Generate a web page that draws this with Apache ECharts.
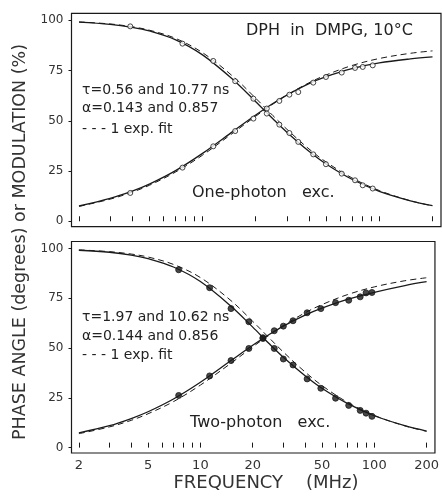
<!DOCTYPE html>
<html>
<head>
<meta charset="utf-8">
<script src="https://cdn.jsdelivr.net/npm/echarts@6/dist/echarts.min.js"></script>
<style>
  html, body { margin: 0; padding: 0; background: #fff; }
  #chart { width: 442px; height: 499px; }
</style>
</head>
<body>
<div id="chart"></div>
<script>
const curveFreq = [2, 3, 4, 5, 7, 10, 15, 20, 25, 30, 40, 50, 70, 100, 150, 200]

// one-photon excitation (top panel)
const onePhaseFit = [7.6, 11.4, 15.0, 18.5, 25.1, 33.8, 45.0, 52.9, 58.6, 62.8, 68.5, 72.0, 76.0, 78.8, 80.8, 81.8]
const oneModFit = [99.1, 98.0, 96.5, 94.7, 90.4, 82.8, 70.2, 59.5, 51.0, 44.3, 34.8, 28.5, 20.9, 14.9, 10.2, 7.8]
const onePhaseExp1 = [7.4, 11.0, 14.5, 17.9, 24.4, 32.9, 44.2, 52.3, 58.3, 62.8, 68.9, 72.8, 77.5, 81.0, 83.6, 84.8]
const oneModExp1 = [99.2, 98.2, 96.8, 95.1, 91.1, 83.9, 71.8, 61.2, 52.6, 45.8, 36.0, 29.5, 21.6, 15.3, 10.2, 7.7]
const oneFreq = [3.9, 7.7, 11.5, 15.3, 19.4, 23.1, 27.2, 31.0, 34.8, 42.3, 49.9, 61.3, 72.9, 80.6, 91.8]
const onePhase = [14.1, 26.7, 37.3, 44.9, 51.1, 56.1, 59.9, 63.0, 64.3, 69.0, 71.8, 74.0, 76.3, 76.8, 77.6]
const oneMod = [97.0, 88.4, 79.8, 69.7, 61.0, 53.6, 48.1, 43.9, 39.5, 33.3, 28.4, 23.7, 20.4, 17.9, 16.3]

// two-photon excitation (bottom panel)
const twoPhaseFit = [7.4, 11.0, 14.6, 18.0, 24.4, 32.8, 43.7, 51.4, 56.9, 61.0, 66.5, 70.0, 74.4, 78.0, 81.4, 83.3]
const twoModFit = [99.1, 98.1, 96.7, 94.9, 90.7, 83.4, 71.0, 60.5, 52.0, 45.4, 36.1, 29.8, 22.2, 16.0, 11.0, 8.3]
const twoPhaseExp1 = [7.0, 10.4, 13.7, 17.0, 23.1, 31.4, 42.4, 50.6, 56.7, 61.3, 67.7, 71.8, 76.8, 80.7, 83.8, 85.3]
const twoModExp1 = [99.3, 98.4, 97.2, 95.7, 92.0, 85.4, 73.8, 63.4, 54.9, 48.0, 38.0, 31.2, 22.8, 16.2, 10.9, 8.2]
const twoFreq = [7.5, 11.3, 15.0, 19.0, 22.9, 26.6, 30.0, 34.1, 41.1, 49.3, 59.9, 71.3, 83.0, 89.7, 97.0]
const twoPhase = [26.2, 36.0, 43.7, 49.8, 55.2, 58.7, 61.0, 63.7, 67.7, 69.8, 72.8, 74.0, 75.7, 77.7, 77.9]
const twoMod = [89.3, 80.3, 69.8, 63.2, 54.8, 49.8, 44.5, 41.5, 34.5, 29.8, 24.8, 21.2, 18.7, 17.3, 15.7]

// axis ticks
const xLabels = [2, 5, 10, 20, 50, 100, 200]
const xTicks = [2, 3, 4, 5, 6, 7, 8, 9, 10, 20, 30, 40, 50, 60, 70, 80, 90, 100, 200]
const yLabels = [0, 25, 50, 75, 100]

const ink = '#1a1a1a'
const font = '"DejaVu Sans", sans-serif'

function pairs(xs, ys) {
  return xs.map((x, i) => [x, ys[i]])
}

function xAxis(gi, showLabel) {
  return {
    type: 'log',
    logBase: 10,
    gridIndex: gi,
    min: 1.814,
    max: 223.4,
    axisLine: { show: false },
    axisTick: { show: true, inside: true, length: 5, customValues: xTicks, lineStyle: { color: ink, width: 1 } },
    minorTick: { show: false },
    axisLabel: { show: showLabel, customValues: xLabels, margin: 6, fontSize: 13, color: '#333', fontFamily: font },
    splitLine: { show: false }
  }
}

function yAxis(gi) {
  return {
    type: 'value',
    gridIndex: gi,
    min: -2.7,
    max: 103.5,
    axisLine: { show: false },
    axisTick: { show: true, inside: false, length: 3, customValues: yLabels, lineStyle: { color: ink } },
    axisLabel: { customValues: yLabels, margin: 8, fontSize: 12, color: '#333', fontFamily: font },
    splitLine: { show: false }
  }
}

function curve(gi, ys, dashed) {
  return {
    type: 'line',
    xAxisIndex: gi,
    yAxisIndex: gi,
    data: pairs(curveFreq, ys),
    smooth: 0.35,
    symbol: 'none',
    silent: true,
    lineStyle: { color: ink, width: dashed ? 1 : 1.3, type: dashed ? [6, 4] : 'solid' },
    z: dashed ? 2 : 3
  }
}

function dots(gi, xs, ys, filled) {
  return {
    type: 'scatter',
    xAxisIndex: gi,
    yAxisIndex: gi,
    data: pairs(xs, ys),
    symbol: 'circle',
    symbolSize: filled ? 6 : 5,
    itemStyle: { color: filled ? ink : '#fff', borderColor: ink, borderWidth: 1 },
    z: 5
  }
}

function label(x, y, text, size) {
  return {
    type: 'text',
    x: x,
    y: y,
    style: { text: text, font: size + 'px ' + font, fill: '#222', textVerticalAlign: 'middle' }
  }
}

var myChart = echarts.init(document.getElementById('chart'))

let option = {
  backgroundColor: '#fff',
  animation: false,
  grid: [
    { left: 71.5, right: 1, top: 13.3, height: 213.4, show: true, borderColor: ink, borderWidth: 1.2, backgroundColor: 'transparent' },
    { left: 71.5, right: 1, top: 241.5, height: 211.5, show: true, borderColor: ink, borderWidth: 1.2, backgroundColor: 'transparent' }
  ],
  xAxis: [xAxis(0, false), xAxis(1, true)],
  yAxis: [yAxis(0), yAxis(1)],
  series: [
    curve(0, onePhaseExp1, true),
    curve(0, oneModExp1, true),
    curve(0, onePhaseFit, false),
    curve(0, oneModFit, false),
    dots(0, oneFreq, onePhase, false),
    dots(0, oneFreq, oneMod, false),
    curve(1, twoPhaseExp1, true),
    curve(1, twoModExp1, true),
    curve(1, twoPhaseFit, false),
    curve(1, twoModFit, false),
    dots(1, twoFreq, twoPhase, true),
    dots(1, twoFreq, twoMod, true)
  ],
  graphic: [
    label(246, 31, 'DPH  in  DMPG, 10°C', 16),
    label(82, 90, 'τ=0.56 and 10.77 ns', 14),
    label(82, 108, 'α=0.143 and 0.857', 14),
    label(82, 129, '- - - 1 exp. fit', 14),
    label(192, 193, 'One-photon   exc.', 16),
    label(82, 317, 'τ=1.97 and 10.62 ns', 14),
    label(82, 336, 'α=0.144 and 0.856', 14),
    label(82, 355, '- - - 1 exp. fit', 14),
    label(190, 423, 'Two-photon   exc.', 16),
    {
      type: 'text',
      x: 20,
      y: 242,
      rotation: Math.PI / 2,
      style: { text: 'PHASE ANGLE (degrees) or MODULATION (%)', font: '17.5px ' + font, fill: '#333', textAlign: 'center', textVerticalAlign: 'middle' }
    },
    {
      type: 'text',
      x: 266,
      y: 483,
      style: { text: 'FREQUENCY    (MHz)', font: '18px ' + font, fill: '#333', textAlign: 'center', textVerticalAlign: 'middle' }
    }
  ]
}

myChart.setOption(option)
window.onresize = function () {
  myChart.resize()
}
</script>
</body>
</html>
